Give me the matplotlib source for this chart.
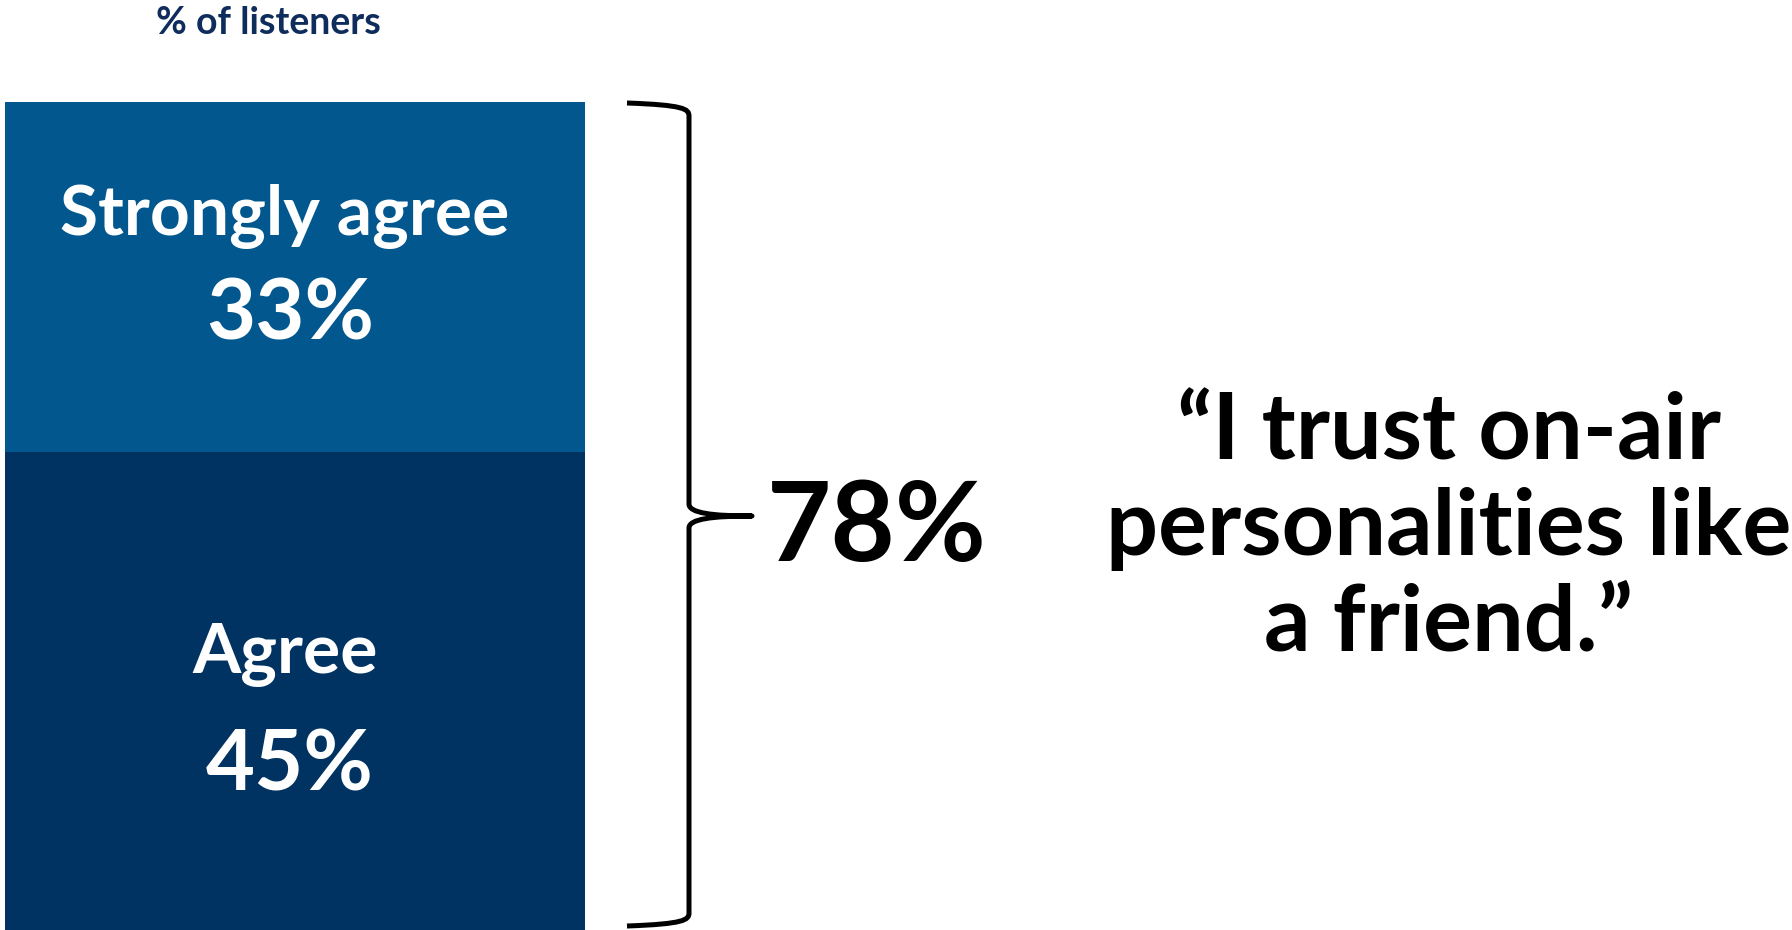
import matplotlib
matplotlib.use("Agg")
import matplotlib.pyplot as plt
from matplotlib.path import Path
from matplotlib.patches import PathPatch

# Survey shares (% of listeners)
categories = ["Agree", "Strongly agree"]
values = [45, 33]
segment_colors = ["#003361", "#02578E"]
title_text = "% of listeners"
quote_text = "\u201cI trust on-air\npersonalities like\na friend.\u201d"

# label / value offsets (points) from each segment's middle
label_offsets = [26, 44]
value_offsets = [-54, -27]

total = sum(values)

W, H = 1792, 930
fig = plt.figure(figsize=(W / 100, H / 100), dpi=100)
ax = fig.add_axes([0, 0, 1, 1])
ax.set_xlim(0, W)
# bar runs from the bottom edge up to ~102 px below the top
ymax = total * H / (H - 102)
ax.set_ylim(0, ymax)
ax.axis("off")

FONT = ["Lato", "DejaVu Sans"]

# stacked bar
bar_x, bar_w = 295, 580
bottom = 0
for cat, val, col, lo, vo in zip(categories, values, segment_colors,
                                 label_offsets, value_offsets):
    ax.bar(bar_x, val, width=bar_w, bottom=bottom, color=col, linewidth=0)
    mid = bottom + val / 2
    ax.annotate(cat, (bar_x - 10, mid), xytext=(0, lo), textcoords="offset points",
                ha="center", va="center", color="white", fontsize=50,
                fontweight="bold", family=FONT)
    ax.annotate(f"{val}%", (bar_x - 5, mid), xytext=(0, vo), textcoords="offset points",
                ha="center", va="center", color="white", fontsize=61,
                fontweight="bold", family=FONT)
    bottom += val

# title
fig.text(268 / W, 1 - 23 / H, title_text, ha="center", va="center",
         color="#0F2D5C", fontsize=27, fontweight="bold", family=FONT)

# curly brace spanning the whole stack
py = ymax / H  # data units per pixel
x_end, x_v, x_tip = 627, 689, 752
top, bot = total - 1 * py, 4 * py
mid = total / 2
verts = [
    (x_end, top), (x_v - 5, top - 2 * py), (x_v, top - 6 * py), (x_v, top - 13 * py),
    (x_v, mid + 12 * py),
    (x_v, mid + 3 * py), (x_tip - 40, mid), (x_tip, mid),
    (x_tip - 40, mid), (x_v, mid - 3 * py), (x_v, mid - 12 * py),
    (x_v, bot + 13 * py),
    (x_v, bot + 6 * py), (x_v - 5, bot + 2 * py), (x_end, bot),
]
codes = [Path.MOVETO, Path.CURVE4, Path.CURVE4, Path.CURVE4,
         Path.LINETO,
         Path.CURVE4, Path.CURVE4, Path.CURVE4,
         Path.CURVE4, Path.CURVE4, Path.CURVE4,
         Path.LINETO,
         Path.CURVE4, Path.CURVE4, Path.CURVE4]
ax.add_patch(PathPatch(Path(verts, codes), fill=False, edgecolor="black",
                       linewidth=3.6, capstyle="butt", joinstyle="round"))

# total share next to the brace
ax.text(877, mid - 13 * py, f"{total}%", ha="center", va="center", color="black",
        fontsize=80, fontweight="bold", family=FONT)

# quote
ax.text(1449, mid - 13 * py, quote_text, ha="center", va="center", color="black",
        fontsize=66, fontweight="bold", family=FONT, linespacing=1.17)

fig.savefig("out.png", dpi=100, facecolor="white")
